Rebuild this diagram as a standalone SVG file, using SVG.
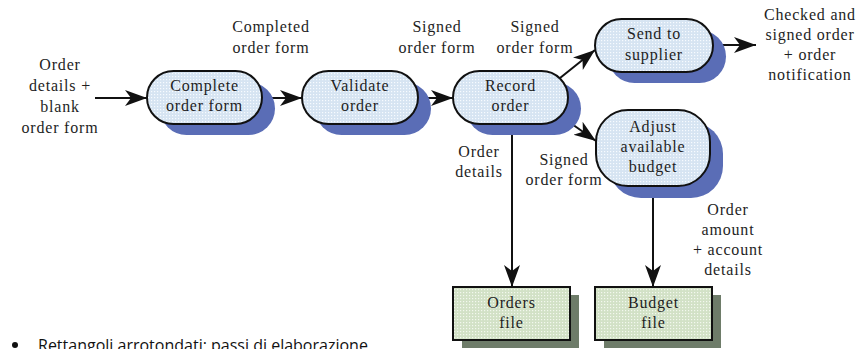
<svg xmlns="http://www.w3.org/2000/svg" width="867" height="349" viewBox="0 0 867 349" font-family="Liberation Serif, DejaVu Serif, serif">
<style>
  text.lbl { font-family: "Liberation Serif", "DejaVu Serif", "Times New Roman", Times, serif !important; font-size: 16px; letter-spacing: 0.8px; fill: #1e1e1e; text-anchor: middle; }
  .proc { fill: url(#dotBlue); stroke: #111; stroke-width: 2; }
  .pshadow { fill: #5a6db6; }
  .store { fill: url(#dotGreen); stroke: #111; stroke-width: 2; }
  .sshadow { fill: #6e7c69; }
  .conn { stroke: #111; stroke-width: 2; fill: none; marker-end: url(#arrow); }
  text.bullet { font-family: "Open Sans", "Noto Sans", sans-serif; font-size: 16px; fill: #111; }
</style>
<defs>
  <pattern id="dotBlue" width="3" height="3" patternUnits="userSpaceOnUse">
    <rect width="3" height="3" fill="#d6e4f2"/>
    <rect x="1" y="1" width="1.2" height="1.2" fill="#f7fbff"/>
  </pattern>
  <pattern id="dotGreen" width="3" height="3" patternUnits="userSpaceOnUse">
    <rect width="3" height="3" fill="#d2e1c6"/>
    <rect x="1" y="1" width="1.2" height="1.2" fill="#f3f8ee"/>
  </pattern>
  <marker id="arrow" markerUnits="userSpaceOnUse" markerWidth="24" markerHeight="18" refX="22" refY="8" orient="auto">
    <path d="M0,0 L22,8 L0,16 L6,8 z" fill="#111"/>
  </marker>
</defs>

<g id="connectors">
  <path class="conn" d="M95,98 L147,98"/>
  <path class="conn" d="M262,98 L302,98"/>
  <path class="conn" d="M418,98 L453,98"/>
  <path class="conn" d="M560,78 L595,50"/>
  <path class="conn" d="M562,117 L596,141"/>
  <path class="conn" d="M512,124 L512,287"/>
  <path class="conn" d="M653,185 L653,287"/>
  <path class="conn" d="M713,45 L756,45"/>
</g>

<g id="complete">
  <rect class="pshadow" x="160" y="82" width="115" height="53" rx="26.5"/>
  <rect class="proc" x="147" y="71" width="115" height="53" rx="26.5"/>
  <text class="lbl" x="204.5" y="91">Complete</text>
  <text class="lbl" x="204.5" y="111">order form</text>
</g>

<g id="validate">
  <rect class="pshadow" x="315" y="82" width="116" height="53" rx="26.5"/>
  <rect class="proc" x="302" y="71" width="116" height="53" rx="26.5"/>
  <text class="lbl" x="360" y="91">Validate</text>
  <text class="lbl" x="360" y="111">order</text>
</g>

<g id="record">
  <rect class="pshadow" x="466" y="82" width="115" height="53" rx="26.5"/>
  <rect class="proc" x="453" y="71" width="115" height="53" rx="26.5"/>
  <text class="lbl" x="510.5" y="91">Record</text>
  <text class="lbl" x="510.5" y="111">order</text>
</g>

<g id="send">
  <rect class="pshadow" x="608" y="30" width="118" height="53" rx="26.5"/>
  <rect class="proc" x="595" y="19" width="118" height="53" rx="26.5"/>
  <text class="lbl" x="654" y="39">Send to</text>
  <text class="lbl" x="654" y="60">supplier</text>
</g>

<g id="adjust">
  <rect class="pshadow" x="609" y="122" width="114" height="76" rx="32"/>
  <rect class="proc" x="596" y="110" width="114" height="76" rx="32"/>
  <text class="lbl" x="653" y="132">Adjust</text>
  <text class="lbl" x="653" y="152">available</text>
  <text class="lbl" x="653" y="172">budget</text>
</g>

<g id="ordersfile">
  <rect class="sshadow" x="462" y="295" width="117" height="53"/>
  <rect class="store" x="453" y="287" width="117" height="53"/>
  <text class="lbl" x="511.5" y="308">Orders</text>
  <text class="lbl" x="511.5" y="328">file</text>
</g>

<g id="budgetfile">
  <rect class="sshadow" x="604" y="295" width="117" height="53"/>
  <rect class="store" x="595" y="287" width="117" height="53"/>
  <text class="lbl" x="653.5" y="308">Budget</text>
  <text class="lbl" x="653.5" y="328">file</text>
</g>

<g id="labels">
  <text class="lbl" x="60" y="70">Order</text>
  <text class="lbl" x="60" y="91">details +</text>
  <text class="lbl" x="60" y="112">blank</text>
  <text class="lbl" x="60" y="133">order form</text>

  <text class="lbl" x="271" y="32">Completed</text>
  <text class="lbl" x="271" y="53">order form</text>

  <text class="lbl" x="437" y="32">Signed</text>
  <text class="lbl" x="437" y="53">order form</text>

  <text class="lbl" x="535" y="32">Signed</text>
  <text class="lbl" x="535" y="53">order form</text>

  <text class="lbl" x="810" y="20">Checked and</text>
  <text class="lbl" x="810" y="40">signed order</text>
  <text class="lbl" x="810" y="60">+ order</text>
  <text class="lbl" x="810" y="80">notification</text>

  <text class="lbl" x="479" y="157">Order</text>
  <text class="lbl" x="479" y="177">details</text>

  <text class="lbl" x="564" y="165">Signed</text>
  <text class="lbl" x="564" y="185">order form</text>

  <text class="lbl" x="728" y="215">Order</text>
  <text class="lbl" x="728" y="235">amount</text>
  <text class="lbl" x="728" y="255">+ account</text>
  <text class="lbl" x="728" y="275">details</text>
</g>

<g id="bullet">
  <circle cx="15" cy="345" r="3" fill="#111"/>
  <text class="bullet" x="38" y="351">Rettangoli arrotondati: passi di elaborazione</text>
</g>
</svg>
